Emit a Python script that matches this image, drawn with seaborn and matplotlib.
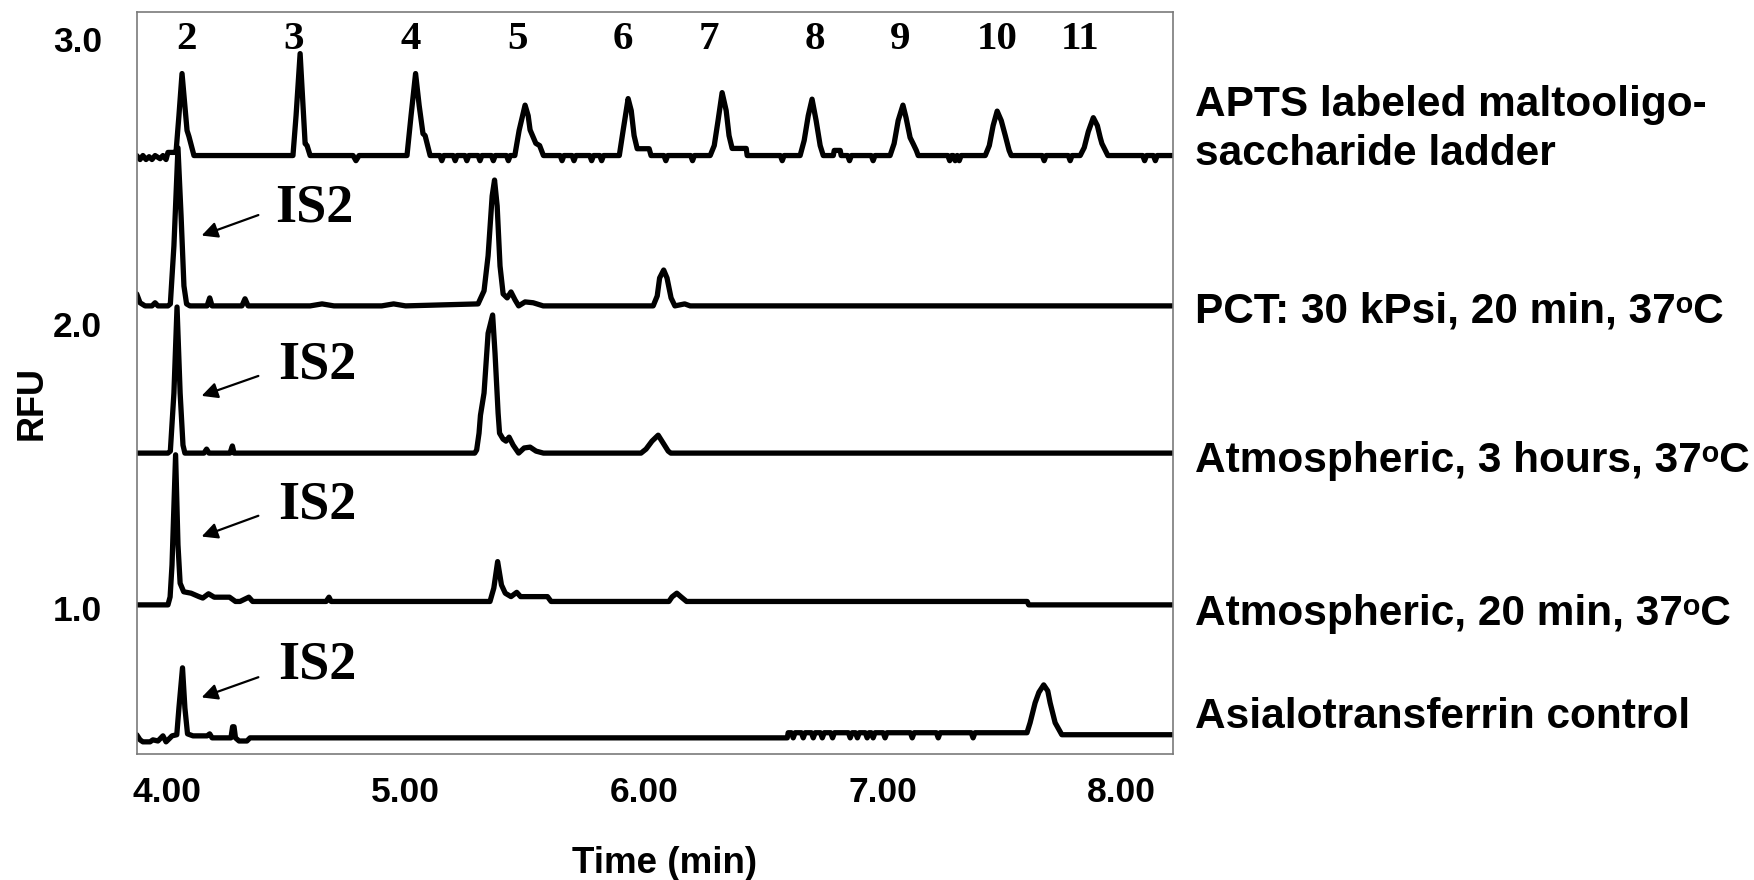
import numpy as np
import matplotlib
matplotlib.use('Agg')
import matplotlib.pyplot as plt
import seaborn as sns
from matplotlib.ticker import FormatStrFormatter

sns.set_theme(style='white')
plt.rcParams['font.family'] = ['Liberation Sans', 'DejaVu Sans']
for key in ['text.color', 'axes.labelcolor', 'xtick.color', 'ytick.color']:
    plt.rcParams[key] = 'black'
SERIF = ['Liberation Serif', 'DejaVu Serif']

# ---- electropherogram traces: time (min) and signal above each trace baseline (RFU) ----
LADDER_T = [3.873, 3.887, 3.899, 3.912, 3.925, 3.937, 3.950, 3.971, 3.983, 3.996, 4.004, 4.034,
            4.038, 4.050, 4.063, 4.071, 4.084, 4.092, 4.113,
            4.528, 4.541, 4.558, 4.570, 4.579, 4.587, 4.600,
            4.780, 4.792, 4.805,
            5.006, 5.023, 5.042, 5.057, 5.073, 5.082, 5.103,
            5.144, 5.152, 5.160, 5.200, 5.208, 5.216, 5.249, 5.257, 5.265,
            5.304, 5.312, 5.320, 5.360, 5.368, 5.376, 5.423, 5.431, 5.439,
            5.458, 5.476, 5.501, 5.514, 5.522, 5.546, 5.562, 5.578,
            5.648, 5.656, 5.664, 5.698, 5.706, 5.714, 5.772, 5.780, 5.788, 5.814, 5.822, 5.830,
            5.896, 5.912, 5.933, 5.946, 5.958, 5.971, 6.021, 6.029,
            6.083, 6.091, 6.099, 6.195, 6.203, 6.211,
            6.277, 6.294, 6.310, 6.327, 6.344, 6.356, 6.369, 6.428, 6.432,
            6.571, 6.579, 6.587,
            6.654, 6.671, 6.688, 6.704, 6.721, 6.738, 6.751, 6.793, 6.797, 6.822, 6.826,
            6.853, 6.861, 6.869, 6.952, 6.960, 6.968,
            7.031, 7.048, 7.065, 7.085, 7.098, 7.115, 7.128, 7.141, 7.149,
            7.273, 7.281, 7.289, 7.296, 7.304, 7.312, 7.313, 7.321, 7.329,
            7.430, 7.447, 7.463, 7.480, 7.497, 7.514, 7.530, 7.539,
            7.669, 7.677, 7.685, 7.778, 7.786, 7.794,
            7.828, 7.845, 7.862, 7.883, 7.900, 7.912, 7.919, 7.933, 7.944,
            8.090, 8.098, 8.106, 8.135, 8.143, 8.151, 8.215]
LADDER_RFU = [0.000, -0.014, 0.000, -0.014, -0.004, -0.014, 0.000, -0.011, 0.000, -0.014, 0.011, 0.011,
              0.014, 0.140, 0.288, 0.211, 0.088, 0.067, 0.000,
              0.000, 0.140, 0.358, 0.176, 0.042, 0.035, 0.000,
              0.000, -0.018, 0.000,
              0.000, 0.140, 0.288, 0.176, 0.077, 0.070, 0.000,
              0.000, -0.018, 0.000, 0.000, -0.018, 0.000, 0.000, -0.018, 0.000,
              0.000, -0.018, 0.000, 0.000, -0.018, 0.000, 0.000, -0.018, 0.000,
              0.000, 0.088, 0.177, 0.140, 0.090, 0.043, 0.035, 0.000,
              0.000, -0.018, 0.000, 0.000, -0.018, 0.000, 0.000, -0.018, 0.000, 0.000, -0.018, 0.000,
              0.000, 0.088, 0.200, 0.158, 0.070, 0.024, 0.024, 0.000,
              0.000, -0.018, 0.000, 0.000, -0.018, 0.000,
              0.000, 0.035, 0.123, 0.221, 0.158, 0.070, 0.025, 0.025, 0.000,
              0.000, -0.018, 0.000,
              0.000, 0.053, 0.140, 0.198, 0.123, 0.035, 0.000, 0.000, 0.018, 0.018, 0.000,
              0.000, -0.018, 0.000, 0.000, -0.018, 0.000,
              0.000, 0.042, 0.123, 0.177, 0.133, 0.063, 0.041, 0.018, 0.000,
              0.000, -0.018, 0.000, 0.000, -0.018, 0.000, 0.000, -0.018, 0.000,
              0.000, 0.035, 0.105, 0.156, 0.123, 0.070, 0.018, 0.000,
              0.000, -0.018, 0.000, 0.000, -0.018, 0.000,
              0.000, 0.028, 0.084, 0.133, 0.105, 0.063, 0.042, 0.018, 0.000,
              0.000, -0.018, 0.000, 0.000, -0.018, 0.000, 0.000]

PCT_T = [3.873, 3.887, 3.908, 3.937, 3.950, 3.962, 4.004, 4.014, 4.029, 4.046, 4.059, 4.071,
         4.082, 4.096, 4.168, 4.179, 4.189, 4.314, 4.327, 4.340, 4.600, 4.650, 4.700,
         4.900, 4.950, 5.000, 5.304, 5.329, 5.346, 5.363, 5.373, 5.384, 5.396, 5.409,
         5.426, 5.442, 5.459, 5.474, 5.501, 5.535, 5.577, 6.038, 6.055, 6.065, 6.082,
         6.096, 6.113, 6.129, 6.170, 6.193, 8.215]
PCT_RFU = [0.042, 0.011, 0.000, 0.000, 0.011, 0.000, 0.000, 0.007, 0.211, 0.555, 0.316, 0.070,
           0.007, 0.000, 0.000, 0.028, 0.000, 0.000, 0.025, 0.000, 0.000, 0.007, 0.000,
           0.000, 0.007, 0.000, 0.007, 0.053, 0.176, 0.386, 0.442, 0.351, 0.140, 0.042,
           0.028, 0.049, 0.021, 0.000, 0.014, 0.011, 0.000, 0.000, 0.035, 0.098, 0.126,
           0.098, 0.028, 0.000, 0.007, 0.000, 0.000]

ATM3H_T = [3.873, 4.004, 4.014, 4.029, 4.042, 4.055, 4.067, 4.075, 4.155, 4.166, 4.176, 4.264,
           4.274, 4.281, 5.290, 5.298, 5.308, 5.314, 5.329, 5.346, 5.365, 5.375, 5.388, 5.394, 5.409,
           5.421, 5.434, 5.451, 5.474, 5.497, 5.522, 5.547, 5.578, 5.987, 6.008, 6.033, 6.059,
           6.080, 6.101, 6.112, 8.215]
ATM3H_RFU = [0.000, 0.000, 0.007, 0.211, 0.513, 0.211, 0.028, 0.000, 0.000, 0.014, 0.000, 0.000,
             0.025, 0.000, 0.000, 0.011, 0.070, 0.133, 0.211, 0.421, 0.485, 0.351, 0.140, 0.070, 0.049,
             0.042, 0.056, 0.028, 0.000, 0.018, 0.021, 0.007, 0.000, 0.000, 0.014, 0.042, 0.063,
             0.035, 0.007, 0.000, 0.000]

ATM20_T = [3.873, 4.004, 4.013, 4.021, 4.036, 4.046, 4.055, 4.070, 4.101, 4.134, 4.150, 4.174,
           4.198, 4.262, 4.287, 4.306, 4.343, 4.359, 4.667, 4.679, 4.688, 5.354, 5.370, 5.386,
           5.402, 5.418, 5.442, 5.466, 5.482, 5.595, 5.610, 6.104, 6.117, 6.137, 6.155, 6.178,
           7.606, 7.612, 8.215]
ATM20_RFU = [0.000, 0.000, 0.028, 0.140, 0.527, 0.211, 0.076, 0.046, 0.041, 0.029, 0.024, 0.039,
             0.027, 0.027, 0.012, 0.012, 0.027, 0.012, 0.012, 0.027, 0.012, 0.012, 0.059, 0.152,
             0.070, 0.041, 0.029, 0.044, 0.029, 0.029, 0.012, 0.012, 0.028, 0.041, 0.028, 0.012,
             0.012, 0.000, 0.000]

ASIALO_T = [3.873, 3.887, 3.899, 3.929, 3.941, 3.962, 3.983, 3.996, 4.013, 4.021, 4.041, 4.050,
            4.065, 4.075, 4.086, 4.109, 4.168, 4.179, 4.189, 4.268, 4.275, 4.281, 4.287, 4.302,
            4.335, 4.348, 6.600, 6.604,
            6.617, 6.625, 6.633, 6.659, 6.667, 6.675, 6.701, 6.709, 6.717, 6.739, 6.747, 6.755,
            6.782, 6.790, 6.798, 6.856, 6.864, 6.872, 6.886, 6.894, 6.902, 6.927, 6.935, 6.943,
            6.952, 6.960, 6.968, 7.002, 7.010, 7.018, 7.116, 7.124, 7.132, 7.225, 7.233, 7.241,
            7.371, 7.379, 7.387,
            7.605, 7.618, 7.639, 7.655, 7.675, 7.692, 7.702, 7.723, 7.751, 8.215]
ASIALO_RFU = [0.011, -0.007, -0.014, -0.014, -0.007, -0.011, 0.007, -0.014, 0.000, 0.007, 0.011, 0.105,
              0.246, 0.105, 0.014, 0.007, 0.007, 0.014, 0.000, 0.000, 0.039, 0.039, 0.000, -0.011,
              -0.011, 0.000, 0.000, 0.018,
              0.018, 0.000, 0.018, 0.018, 0.000, 0.018, 0.018, 0.000, 0.018, 0.018, 0.000, 0.018,
              0.018, 0.000, 0.018, 0.018, 0.000, 0.018, 0.018, 0.000, 0.018, 0.018, 0.000, 0.018,
              0.018, 0.000, 0.018, 0.018, 0.000, 0.018, 0.018, 0.000, 0.018, 0.018, 0.000, 0.018,
              0.018, 0.000, 0.018,
              0.018, 0.053, 0.123, 0.160, 0.186, 0.165, 0.123, 0.053, 0.011, 0.011]

# baseline of each stacked trace on the RFU axis
OFFSETS = [2.590, 2.062, 1.545, 1.012, 0.545]

SAMPLE_LABELS = ['APTS labeled maltooligo-', 'saccharide ladder',
                 'PCT: 30 kPsi, 20 min, 37\u1d52C',
                 'Atmospheric, 3 hours, 37\u1d52C',
                 'Atmospheric, 20 min, 37\u1d52C',
                 'Asialotransferrin control']
LABEL_Y = [0.868, 0.8125, 0.634, 0.4642, 0.2898, 0.1727]  # figure fraction, text baselines

LADDER_NUMS = ['2', '3', '4', '5', '6', '7', '8', '9', '10', '11']
LADDER_NUM_T = [4.083, 4.529, 5.022, 5.469, 5.913, 6.270, 6.717, 7.073, 7.480, 7.829]

IS2_TEXT_T = [4.616, 4.631, 4.631, 4.631]
IS2_TEXT_Y = [2.358, 1.808, 1.316, 0.754]
ARROW_TAIL = [(4.383, 2.381), (4.383, 1.816), (4.383, 1.325), (4.383, 0.758)]
ARROW_HEAD = [(4.145, 2.309), (4.145, 1.746), (4.145, 1.252), (4.145, 0.687)]

fig = plt.figure(figsize=(17.54, 8.8), dpi=100)
ax = fig.add_axes([0.07794, 0.14318, 0.59054, 0.84318])

traces = [(LADDER_T, LADDER_RFU), (PCT_T, PCT_RFU), (ATM3H_T, ATM3H_RFU),
          (ATM20_T, ATM20_RFU), (ASIALO_T, ASIALO_RFU)]
for (t, sig), off in zip(traces, OFFSETS):
    sns.lineplot(x=t, y=np.array(sig) + off, ax=ax, color='black', linewidth=3.8,
                 estimator=None, sort=False, solid_joinstyle='round')

ax.set_xlim(3.873, 8.215)
ax.set_ylim(0.4883, 3.0941)
ax.set_xticks([4, 5, 6, 7, 8])
ax.set_yticks([1, 2, 3])
ax.xaxis.set_major_formatter(FormatStrFormatter('%.2f'))
ax.yaxis.set_major_formatter(FormatStrFormatter('%.1f'))
ax.tick_params(axis='both', length=0, labelsize=25.5, colors='black')
ax.tick_params(axis='x', pad=16)
ax.tick_params(axis='y', pad=25)
for lbl in ax.get_xticklabels() + ax.get_yticklabels():
    lbl.set_fontweight('bold')
for s in ax.spines.values():
    s.set_color('#7a7a7a')
    s.set_linewidth(1.2)

ax.set_xlabel('Time (min)', fontsize=26.5, fontweight='bold', color='black')
ax.xaxis.set_label_coords(0.5096, -0.124)
ax.set_ylabel('RFU', fontsize=26, fontweight='bold', color='black')
ax.yaxis.set_label_coords(-0.0837, 0.473)

for n, t in zip(LADDER_NUMS, LADDER_NUM_T):
    ax.text(t, 2.963, n, ha='center', va='baseline', family=SERIF,
            fontweight='bold', fontsize=29.5, color='black')

for t, y in zip(IS2_TEXT_T, IS2_TEXT_Y):
    ax.text(t, y, 'IS2', ha='center', va='baseline', family=SERIF,
            fontweight='bold', fontsize=39, color='black')
for tail, head in zip(ARROW_TAIL, ARROW_HEAD):
    ax.annotate('', xy=head, xytext=tail,
                arrowprops=dict(arrowstyle='-|>', lw=1.6, color='black',
                                mutation_scale=24, shrinkA=0, shrinkB=0))

for s, y in zip(SAMPLE_LABELS, LABEL_Y):
    fig.text(0.6813, y, s, fontsize=30.5, fontweight='bold', va='baseline', ha='left',
             color='black')

fig.savefig('out.png', dpi=100)
